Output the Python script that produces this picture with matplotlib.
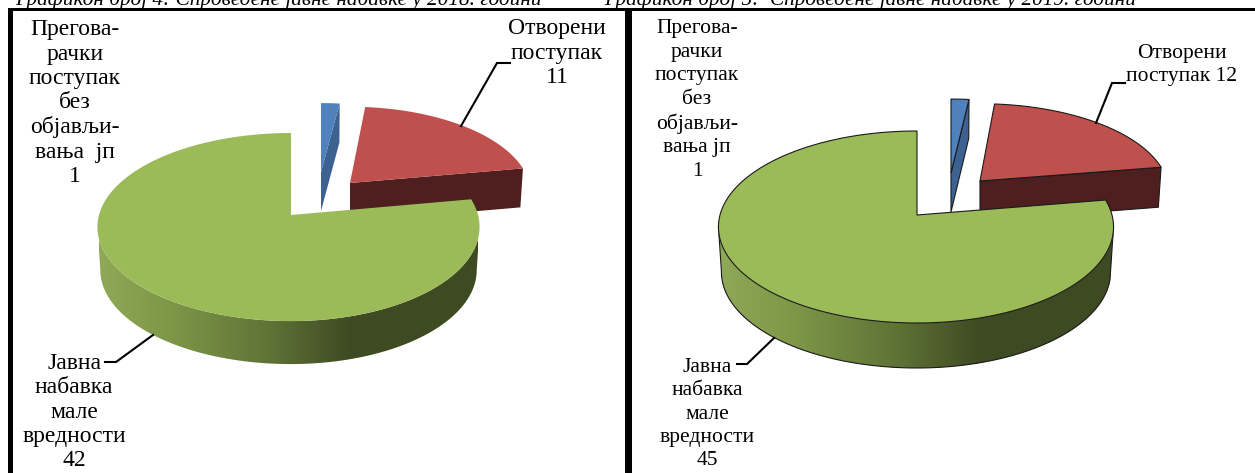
#!/usr/bin/env python3
# Two exploded 3D-look pies, drawn in pixel coordinates of the page crop
import numpy as np
import matplotlib
matplotlib.use("Agg")
import matplotlib.pyplot as plt
from matplotlib.colors import LinearSegmentedColormap
from matplotlib.patches import Polygon

plt.rcParams["font.family"] = ["Liberation Serif", "DejaVu Serif"]

# data
values_2018 = [1, 11, 42]
values_2019 = [1, 12, 45]
captions = ["Графикон број 4: Спроведене јавне набавке у 2018. години",
            "Графикон број 5:  Спроведене јавне набавке у 2019. години"]
labels_2018 = ["Прегова-\nрачки\nпоступак\nбез\nобјављи-\nвања  јп\n1",
               "Отворени\nпоступак\n11",
               "Јавна\nнабавка\nмале\nвредности\n42"]
labels_2019 = ["Прегова-\nрачки\nпоступак\nбез\nобјављи-\nвања јп\n1",
               "Отворени\nпоступак 12",
               "Јавна\nнабавка\nмале\nвредности\n45"]

# styles
TOP = ["#4f81bd", "#c0504d", "#9bbb59"]
WALL = ["#3c6291", "#4f1e1e"]
green_wall = LinearSegmentedColormap.from_list(
    "wall", [(0, "#8fa958"), (0.2, "#7c9546"), (0.45, "#5f7337"), (0.66, "#3f4b22"), (1, "#3e4a21")])


def project(theta, ax_, ay_, rxl, rxr, ry, p, sx=1.0, sy=1.0):
    # clockwise from 12 o'clock on a circle, foreshortened towards the back
    t = np.radians(theta)
    u, v = np.sin(t), np.cos(t)
    w = 1 + p * v
    rx = np.where(u < 0, rxl, rxr)
    return ax_ + sx * rx * u / w, ay_ - sy * ry * v / w


def draw_pie(ax, values, pie, outline):
    edges = np.concatenate([[0], np.cumsum(values)]) / sum(values) * 360
    lw = 0.8 if outline else 0
    ec = "#1a1a1a" if outline else "none"
    kw = dict(rxl=pie["rxl"], rxr=pie["rxr"], ry=pie["ry"], p=pie["p"])
    depth = pie["depth"]

    # blue and red slices, back ones first
    for i in range(2):
        ax_, ay_ = pie["apex"][i]
        sx, sy = pie["scale"][i]
        th = np.linspace(edges[i] - 1.2 * i, edges[i + 1], 80)
        x, y = project(th, ax_, ay_, sx=sx, sy=sy, **kw)
        xb, yb = project(th, ax_, ay_ + pie["wall"][i], sx=sx * 0.985, sy=sy, **kw)
        wall = [(ax_, ay_), (x[-1], y[-1]), (xb[-1], yb[-1]), (ax_, ay_ + pie["wall"][i])]
        ax.add_patch(Polygon(wall, fc=WALL[i], ec=ec, lw=lw, zorder=2 + i))
        top = np.column_stack([np.r_[ax_, x], np.r_[ay_, y]])
        ax.add_patch(Polygon(top, fc=TOP[i], ec=ec, lw=lw, zorder=2 + i))

    # green slice with its shaded wall, from its widest point on the right to the left one
    ax_, ay_ = pie["apex"][2]
    th = np.linspace(edges[2], 320, 480)
    x, y = project(th, ax_, ay_, **kw)
    xb, yb = project(th, ax_, ay_ + depth, sx=0.985, **kw)
    a, b = np.argmax(x), np.argmin(x)
    c, d = np.argmax(xb), np.argmin(xb)
    wall = Polygon(np.column_stack([np.r_[x[a:b + 1], xb[c:d + 1][::-1]],
                                    np.r_[y[a:b + 1], yb[c:d + 1][::-1]]]), fc="none", ec="none")
    ax.add_patch(wall)
    x0, x1 = ax_ - pie["rxl"], ax_ + pie["rxr"]
    im = ax.imshow(np.linspace(0, 1, 256)[None, :], cmap=green_wall, aspect="auto",
                   extent=(x0, x1, ay_ + 170, ay_ - 30), zorder=4, interpolation="bilinear")
    im.set_clip_path(wall)
    if outline:
        ax.plot(np.r_[x[a], xb[c:d + 1], x[b]], np.r_[y[a], yb[c:d + 1], y[b]],
                color="#1a1a1a", lw=0.8, zorder=4.5)

    th = np.linspace(edges[2], 360, 300)
    x, y = project(th, ax_, ay_, **kw)
    top = np.column_stack([np.r_[ax_, x], np.r_[ay_, y]])
    ax.add_patch(Polygon(top, fc=TOP[2], ec=ec, lw=lw, zorder=5))


fig = plt.figure(figsize=(12.55, 4.73), dpi=100)
ax = fig.add_axes([0, 0, 1, 1])

pie_left = dict(apex=[(321, 172), (350, 183), (291, 215)], scale=[(0.97, 0.84), (0.96, 0.93)],
                wall=[39, 39], rxl=192, rxr=187, ry=92.5, p=0.128, depth=43)
pie_right = dict(apex=[(951, 173), (980, 181), (917, 215)], scale=[(0.96, 0.88), (0.96, 0.92)],
                 wall=[39, 40], rxl=197, rxr=195, ry=94.5, p=0.125, depth=45)
draw_pie(ax, values_2018, pie_left, False)
draw_pie(ax, values_2019, pie_right, True)

# page frame
for rect in [(8, 8, 1247, 3.5), (8, 8, 5, 465), (625, 8, 7, 465)]:
    ax.add_patch(plt.Rectangle(rect[:2], rect[2], rect[3], fc="black", ec="none", zorder=8))

# captions, cut off by the top of the crop as in the scan
ax.text(15, 5, captions[0], style="italic", fontsize=15.3, va="baseline", ha="left")
ax.text(604, 5, captions[1], style="italic", fontsize=15.3, va="baseline", ha="left")

# leader lines
leaders = [[(461, 126), (497, 63), (510, 63)], [(153, 335), (116, 362), (105, 362)],
           [(1096, 123), (1112, 83), (1125, 83)], [(774, 338), (747, 364), (737, 364)]]
for pts in leaders:
    ax.plot(*zip(*pts), color="black", lw=1.5, zorder=7, solid_joinstyle="miter")

# labels
text_kw = dict(ha="center", va="center", multialignment="center", zorder=9)
ax.text(75, 103, labels_2018[0], fontsize=17, linespacing=1.2, **text_kw)
ax.text(557, 53, labels_2018[1], fontsize=17, linespacing=1.2, **text_kw)
ax.text(74, 412, labels_2018[2], fontsize=17, linespacing=1.2, **text_kw)
ax.text(697, 100, labels_2019[0], fontsize=15.5, linespacing=1.31, **text_kw)
ax.text(1182, 65, labels_2019[1], fontsize=15.5, linespacing=1.31, **text_kw)
ax.text(707, 414, labels_2019[2], fontsize=15.5, linespacing=1.31, **text_kw)

ax.set_xlim(0, 1255)
ax.set_ylim(473, 0)
ax.axis("off")
fig.savefig("out.png", dpi=100, facecolor="white")
